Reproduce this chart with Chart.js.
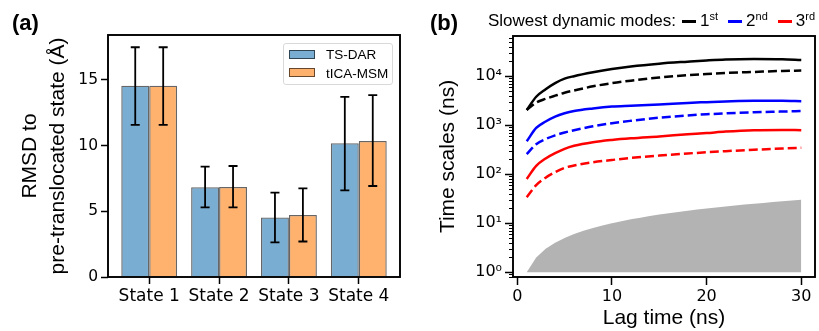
<!DOCTYPE html>
<html lang="en">
<head>
  <meta charset="UTF-8" />
  <title>RMSD and slowest time scales</title>
  <script src="https://cdn.jsdelivr.net/npm/chart.js"></script>
  <style>
    body { margin: 0; background: #fff; width: 819px; height: 331px; position: relative; overflow: hidden;
           font-family: "Liberation Sans", Arial, sans-serif; }
    canvas { position: absolute; top: 0; }
    .tag { position: absolute; top: 10px; font-size: 22px; font-weight: bold; line-height: 25px; }
    #legendA { position: absolute; left: 283px; top: 43px; width: 108px; height: 40px; border: 1px solid #d9d9d9;
               border-radius: 3px; background: rgba(255,255,255,0.8); font-size: 13.5px; }
    #legendA .row { position: absolute; left: 5px; height: 18px; line-height: 18px; white-space: nowrap; }
    #legendA .sw { display: inline-block; width: 24px; height: 7px; border: 1px solid rgba(0,0,0,0.6);
                   vertical-align: middle; margin-right: 11px; position: relative; top: -1px; }
    #legendB { position: absolute; left: 488px; top: 11px; font-size: 17px; line-height: 20px; white-space: nowrap; }
    #legendB .ln { display: inline-block; width: 14px; height: 3px; vertical-align: middle; margin: 0 4px 0 6px; }
    #legendB sup { font-size: 11px; vertical-align: 6px; line-height: 0; margin-right: 4px; }
  </style>
</head>
<body>
  <canvas id="chartA" width="410" height="331" style="left:0"></canvas>
  <canvas id="chartB" width="409" height="331" style="left:410px"></canvas>
  <div class="tag" style="left:12px">(a)</div>
  <div class="tag" style="left:430px">(b)</div>
  <div id="legendA"></div>
  <div id="legendB"></div>

  <script>
    // ---- panel (a): RMSD per state ----
    const states = ['State 1', 'State 2', 'State 3', 'State 4'];
    const methods = ['TS-DAR', 'tICA-MSM'];
    const tsdarRmsd = [14.54, 6.82, 4.53, 10.17];
    const tsdarLow  = [11.57, 5.29, 2.64, 6.59];
    const tsdarHigh = [17.47, 8.39, 6.41, 13.70];
    const ticaRmsd  = [14.54, 6.85, 4.72, 10.35];
    const ticaLow   = [11.57, 5.29, 2.70, 6.92];
    const ticaHigh  = [17.47, 8.44, 6.74, 13.83];
    const rmsdTicks = [0, 5, 10, 15];

    // ---- panel (b): implied time scales vs lag time ----
    const lagTimes   = [1, 2, 3, 4, 5, 6, 8, 10, 12, 15, 18, 20, 22, 25, 28, 30];
    const mode1Solid = [2040, 3800, 5400, 7200, 8900, 10000, 12000, 14000, 15800, 18000, 19800, 21000, 22000, 22500, 22200, 21300];
    const mode1Dash  = [2040, 2900, 3450, 4000, 4600, 5100, 6200, 7200, 8100, 9400, 10500, 11100, 11600, 12200, 12800, 13000];
    const mode2Solid = [470, 880, 1190, 1500, 1750, 1950, 2200, 2400, 2500, 2650, 2850, 2950, 3050, 3150, 3150, 3080];
    const mode2Dash  = [257, 410, 520, 620, 710, 790, 950, 1100, 1230, 1420, 1580, 1670, 1740, 1830, 1900, 1950];
    const mode3Solid = [80, 148, 210, 270, 330, 380, 450, 500, 540, 590, 650, 690, 740, 790, 800, 790];
    const mode3Dash  = [34, 60, 85, 110, 135, 150, 175, 195, 215, 240, 265, 280, 295, 315, 335, 345];
    const shadeLag = [1,2,3,4,5,6,7,8,9,10,11,12,13,14,15,16,17,18,19,20,21,22,23,24,25,26,27,28,29,30];
    const shadeTop = [1,2,3,4,5,6,7,8,9,10,11,12,13,14,15,16,17,18,19,20,21,22,23,24,25,26,27,28,29,30];
    const lagTicks = [0, 10, 20, 30];
    const timeTicks = [1, 10, 100, 1000, 10000];
    const modeNames = ['1', '2', '3'];
    const modeSuffix = ['st', 'nd', 'rd'];
    const modeColors = ['#000000', '#0000ff', '#ff0000'];

    const blueFill = 'rgba(31,119,180,0.6)';
    const orangeFill = 'rgba(255,127,14,0.6)';
    const tickFont = { family: 'DejaVu Sans', size: 16 };

    const pts = (xs, ys) => xs.map((x, i) => ({ x: x, y: ys[i] }));

    // box around plot area
    const framePlugin = {
      id: 'frame',
      afterDraw(chart) {
        const a = chart.chartArea, ctx = chart.ctx;
        ctx.save();
        ctx.strokeStyle = '#000';
        ctx.lineWidth = 1.9;
        ctx.strokeRect(a.left, a.top, a.right - a.left, a.bottom - a.top);
        ctx.restore();
      }
    };

    const errorBarPlugin = {
      id: 'errbars',
      afterDatasetsDraw(chart) {
        const ctx = chart.ctx, y = chart.scales.y;
        const lows = [tsdarLow, ticaLow], highs = [tsdarHigh, ticaHigh];
        ctx.save();
        ctx.strokeStyle = '#000';
        ctx.lineWidth = 1.8;
        chart.data.datasets.forEach((ds, di) => {
          chart.getDatasetMeta(di).data.forEach((bar, j) => {
            const top = y.getPixelForValue(highs[di][j]);
            const bot = y.getPixelForValue(lows[di][j]);
            ctx.beginPath();
            ctx.moveTo(bar.x, top); ctx.lineTo(bar.x, bot);
            ctx.moveTo(bar.x - 4.5, top); ctx.lineTo(bar.x + 4.5, top);
            ctx.moveTo(bar.x - 4.5, bot); ctx.lineTo(bar.x + 4.5, bot);
            ctx.stroke();
          });
        });
        ctx.restore();
      }
    };

    // minor ticks of the log axis
    const minorTickPlugin = {
      id: 'minorTicks',
      afterDraw(chart) {
        const y = chart.scales.y, ctx = chart.ctx, left = chart.chartArea.left;
        ctx.save();
        ctx.strokeStyle = '#000';
        ctx.lineWidth = 1;
        ctx.beginPath();
        for (let k = -1; k <= 4; k++) {
          for (let m = 2; m <= 9; m++) {
            const v = m * Math.pow(10, k);
            if (v < y.min || v > y.max) continue;
            const py = Math.round(y.getPixelForValue(v)) + 0.5;
            ctx.moveTo(left - 4, py); ctx.lineTo(left, py);
          }
        }
        ctx.stroke();
        ctx.restore();
      }
    };

    new Chart(document.getElementById('chartA'), {
      type: 'bar',
      data: {
        datasets: [
          { label: methods[0], data: pts([0, 1, 2, 3], tsdarRmsd), backgroundColor: blueFill,
            borderColor: 'rgba(0,0,0,0.6)', borderWidth: 1.3 },
          { label: methods[1], data: pts([0, 1, 2, 3], ticaRmsd), backgroundColor: orangeFill,
            borderColor: 'rgba(0,0,0,0.6)', borderWidth: 1.3 }
        ]
      },
      options: {
        responsive: false,
        animation: false,
        categoryPercentage: 0.8,
        barPercentage: 1.0,
        layout: { padding: { top: 35, right: 10, left: 0, bottom: 0 } },
        plugins: { legend: { display: false }, tooltip: { enabled: false } },
        scales: {
          x: {
            type: 'linear', min: -0.59, max: 3.59, offset: false,
            afterFit: s => { s.height = 54; },
            afterBuildTicks: s => { s.ticks = states.map((_, i) => ({ value: i })); },
            grid: { offset: false, drawOnChartArea: false, drawTicks: true, tickLength: 7, tickColor: '#000', tickWidth: 1.5 },
            border: { display: false },
            ticks: { color: '#000', font: { family: 'DejaVu Sans', size: 17 }, padding: 2,
                     maxRotation: 0, callback: v => states[v] }
          },
          y: {
            min: 0, max: 18.4,
            afterFit: s => { s.width = 108; },
            afterBuildTicks: s => { s.ticks = rmsdTicks.map(v => ({ value: v })); },
            grid: { drawOnChartArea: false, drawTicks: true, tickLength: 7, tickColor: '#000', tickWidth: 1.5 },
            border: { display: false },
            ticks: { color: '#000', font: { family: 'DejaVu Sans', size: 15.5 }, padding: 3 },
            title: { display: true, text: ['RMSD to', 'pre-translocated state (Å)'], color: '#000',
                     font: { family: 'Liberation Sans', size: 21, lineHeight: 1.33 }, padding: { top: 16, bottom: 0 } }
          }
        }
      },
      plugins: [errorBarPlugin, framePlugin]
    });

    const lineSet = (ys, color, dashed) => ({
      data: pts(lagTimes, ys), borderColor: color, borderWidth: 2.5, pointRadius: 0,
      borderDash: dashed ? [9, 4] : [], fill: false, cubicInterpolationMode: 'monotone'
    });

    new Chart(document.getElementById('chartB'), {
      type: 'line',
      data: {
        datasets: [
          lineSet(mode1Solid, modeColors[0], false),
          lineSet(mode1Dash, modeColors[0], true),
          lineSet(mode2Solid, modeColors[1], false),
          lineSet(mode2Dash, modeColors[1], true),
          lineSet(mode3Solid, modeColors[2], false),
          lineSet(mode3Dash, modeColors[2], true),
          { data: pts(shadeLag, shadeTop), borderWidth: 0, borderColor: 'rgba(0,0,0,0)', pointRadius: 0,
            backgroundColor: '#b3b3b3', fill: { value: 1 } }
        ]
      },
      options: {
        responsive: false,
        animation: false,
        layout: { padding: { top: 36, right: 4, left: 0, bottom: 0 } },
        plugins: { legend: { display: false }, tooltip: { enabled: false } },
        scales: {
          x: {
            type: 'linear', min: -0.45, max: 31.45,
            afterFit: s => { s.height = 54; },
            afterBuildTicks: s => { s.ticks = lagTicks.map(v => ({ value: v })); },
            grid: { drawOnChartArea: false, drawTicks: true, tickLength: 8, tickColor: '#000', tickWidth: 1.5 },
            border: { display: false },
            ticks: { color: '#000', font: tickFont, padding: 2, maxRotation: 0 },
            title: { display: true, text: 'Lag time (ns)', color: '#000',
                     font: { family: 'Liberation Sans', size: 21, lineHeight: 1.2 }, padding: 0 }
          },
          y: {
            type: 'logarithmic', min: 0.8, max: 66000,
            afterFit: s => { s.width = 103; },
            afterBuildTicks: s => { s.ticks = timeTicks.map(v => ({ value: v })); },
            grid: { drawOnChartArea: false, drawTicks: true, tickLength: 8, tickColor: '#000', tickWidth: 1.5 },
            border: { display: false },
            ticks: { color: '#000', font: tickFont, padding: 3,
                     callback: v => '10' + '⁰¹²³⁴'[Math.round(Math.log10(v))] },
            title: { display: true, text: 'Time scales (ns)', color: '#000',
                     font: { family: 'Liberation Sans', size: 21, lineHeight: 1.2 }, padding: { top: 26, bottom: 0 } }
          }
        }
      },
      plugins: [minorTickPlugin, framePlugin]
    });

    // legends
    document.getElementById('legendA').innerHTML = methods.map((m, i) =>
      `<div class="row" style="top:${2 + i * 18.5}px"><span class="sw" style="background:${[blueFill, orangeFill][i]}"></span>${m}</div>`
    ).join('');
    document.getElementById('legendB').innerHTML = 'Slowest dynamic modes:' + modeNames.map((n, i) =>
      `<span class="ln" style="background:${modeColors[i]}"></span>${n}<sup>${modeSuffix[i]}</sup>`
    ).join('');
  </script>
</body>
</html>
